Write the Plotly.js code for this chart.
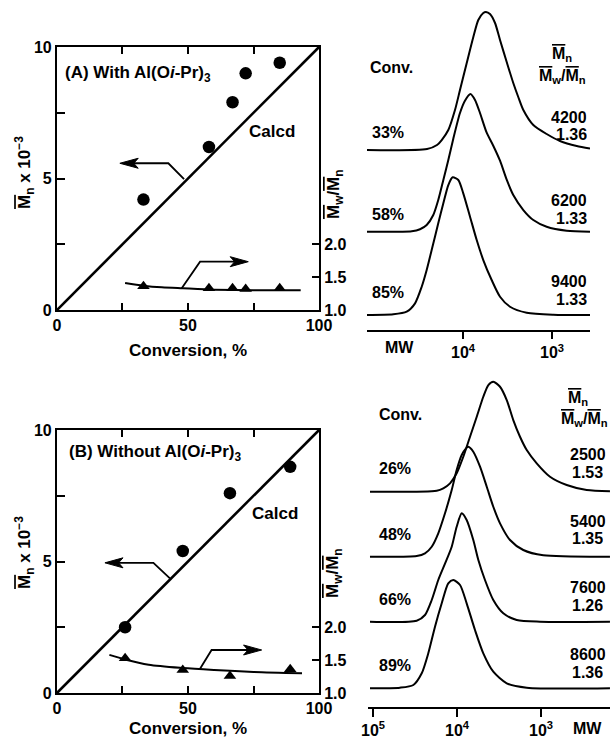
<!DOCTYPE html>
<html><head><meta charset="utf-8">
<script src="https://cdn.plot.ly/plotly-3.0.1.min.js"></script>
<style>html,body{margin:0;padding:0;background:#fff;}#chart{width:610px;height:738px;}</style>
</head><body><div id="chart"></div>
<script>
// ---------- Panel A: with Al(Oi-Pr)3 ----------
const convA = [33, 58, 67, 72, 85];
const mnA = [4.2, 6.2, 7.9, 9.0, 9.4];
const pdiA = [1.36, 1.33, 1.33, 1.32, 1.33];
const fitConvA = [26, 33, 40, 48, 60, 75, 93];
const fitPdiA = [1.41, 1.37, 1.345, 1.33, 1.31, 1.30, 1.30];
// ---------- Panel B: without Al(Oi-Pr)3 ----------
const convB = [26, 48, 66, 89];
const mnB = [2.5, 5.4, 7.6, 8.6];
const pdiB = [1.53, 1.35, 1.26, 1.36];
const fitConvB = [20, 26, 35, 48, 60, 75, 93.5];
const fitPdiB = [1.58, 1.51, 1.43, 1.38, 1.35, 1.32, 1.30];
// calculated Mn line
const calcdConv = [0, 100];
const calcdMn = [0, 10];

// ---------- GPC traces (x = log10 MW, y = detector response, arbitrary units) ----------
const gpcConvA = ['33%', '58%', '85%'];
const gpcMnA = ['4200', '6200', '9400'];
const gpcPdiA = ['1.36', '1.33', '1.33'];
const gpcBaseA = [180, 98.3, 15];
const logMwA33 = [5.079, 4.404, 4.292, 4.239, 4.165, 4.090, 4.034, 3.958, 3.884, 3.828, 3.772, 3.742, 3.697, 3.640, 3.584, 3.509, 3.435, 3.379, 3.322, 3.210, 3.060, 2.910, 2.722, 2.573];
const respA33 = [0, 1, 5, 10, 20, 40, 60, 87, 113, 130, 137, 138, 136, 127, 110, 88, 67, 53, 40, 25, 16, 9, 4, 1.5];
const logMwA58 = [5.082, 4.576, 4.483, 4.408, 4.334, 4.278, 4.221, 4.165, 4.109, 4.034, 3.978, 3.916, 3.865, 3.809, 3.734, 3.660, 3.584, 3.509, 3.435, 3.322, 3.210, 3.060, 2.835, 2.573];
const respA58 = [0, 0.5, 2.5, 6.7, 16.7, 31.7, 51.7, 71.7, 93, 118.7, 131, 137.7, 131.7, 118.7, 99, 86, 71, 52, 36.7, 21.7, 11.7, 5, 1, 0];
const logMwA85 = [5.082, 4.783, 4.633, 4.539, 4.464, 4.408, 4.352, 4.278, 4.221, 4.165, 4.116, 4.053, 3.997, 3.921, 3.846, 3.772, 3.678, 3.584, 3.472, 3.284, 2.985, 2.573];
const respA85 = [0, 0.7, 3.3, 11.7, 28.3, 45, 65, 91.7, 111.7, 130, 137.7, 135, 121.7, 98.3, 75, 55, 35, 18.3, 8.3, 2.3, 0.3, 0];

const gpcConvB = ['26%', '48%', '66%', '89%'];
const gpcMnB = ['2500', '5400', '7600', '8600'];
const gpcPdiB = ['1.53', '1.35', '1.26', '1.36'];
const gpcBaseB = [215.3, 150.3, 85.3, 18.7];
const logMwB26 = [5.036, 4.242, 4.163, 4.083, 4.004, 3.925, 3.845, 3.765, 3.687, 3.627, 3.568, 3.488, 3.408, 3.330, 3.250, 3.170, 3.051, 2.893, 2.694, 2.456, 2.179];
const respB26 = [0, 1, 3.4, 8.4, 18.4, 35, 55, 75, 95, 106.7, 110, 105, 91.7, 71.7, 55, 41.7, 28.4, 15, 6.7, 1.7, 0.5];
const logMwB48 = [5.036, 4.480, 4.381, 4.301, 4.223, 4.143, 4.063, 4.004, 3.944, 3.893, 3.865, 3.806, 3.726, 3.646, 3.568, 3.488, 3.369, 3.211, 2.973, 2.179];
const respB48 = [0, 0.7, 3.4, 10, 23.4, 43.4, 66.7, 86.7, 101.7, 108.4, 110, 105, 90, 70, 50, 33.4, 16.7, 6.7, 1.4, 0];
const logMwB66 = [5.036, 4.480, 4.381, 4.301, 4.223, 4.143, 4.063, 4.004, 3.944, 3.885, 3.806, 3.746, 3.667, 3.568, 3.449, 3.289, 3.012, 2.179];
const respB66 = [0, 1, 6.7, 21.7, 41.7, 58, 75, 95, 108.4, 101.7, 81.7, 61.7, 41.7, 21.7, 8.4, 1.7, 0, 0];
const logMwB89 = [5.036, 4.679, 4.520, 4.420, 4.342, 4.262, 4.182, 4.104, 4.044, 3.964, 3.885, 3.786, 3.687, 3.568, 3.408, 3.170, 2.179];
const respB89 = [0, 0.6, 3.3, 15, 35, 61.6, 85, 105, 108.3, 103.3, 85, 58.3, 35, 16.6, 5, 0.6, 0];

// ---------- build ----------
const BLACK = '#000';
const OV = s => '<span style="text-decoration:overline">' + s + '</span>';
const MN = OV('M') + '<sub>n</sub>';
const MW = OV('M') + '<sub>w</sub>';

const traces = [];
function panel(xa, ya, ya2, conv, mn, pdi, fitC, fitP) {
  traces.push({x: calcdConv, y: calcdMn, xaxis: xa, yaxis: ya, mode: 'lines', line: {color: BLACK, width: 2.6}, hoverinfo: 'skip'});
  traces.push({x: conv, y: mn, xaxis: xa, yaxis: ya, mode: 'markers', marker: {symbol: 'circle', size: 12.5, color: BLACK}});
  traces.push({x: fitC, y: fitP, xaxis: xa, yaxis: ya2, mode: 'lines', line: {color: BLACK, width: 2, shape: 'spline', smoothing: 0.8}});
  traces.push({x: conv, y: pdi, xaxis: xa, yaxis: ya2, mode: 'markers', marker: {symbol: 'triangle-up', size: 11, color: BLACK}});
}
panel('x', 'y', 'y2', convA, mnA, pdiA, fitConvA, fitPdiA);
panel('x2', 'y3', 'y4', convB, mnB, pdiB, fitConvB, fitPdiB);

function gpc(xa, ya, xs, ys, base) {
  traces.push({x: xs, y: ys.map(v => v + base), xaxis: xa, yaxis: ya, mode: 'lines',
    line: {color: BLACK, width: 2, shape: 'spline', smoothing: 0.7}});
}
gpc('x3', 'y5', logMwA33, respA33, gpcBaseA[0]);
gpc('x3', 'y5', logMwA58, respA58, gpcBaseA[1]);
gpc('x3', 'y5', logMwA85, respA85, gpcBaseA[2]);
gpc('x4', 'y6', logMwB26, respB26, gpcBaseB[0]);
gpc('x4', 'y6', logMwB48, respB48, gpcBaseB[1]);
gpc('x4', 'y6', logMwB66, respB66, gpcBaseB[2]);
gpc('x4', 'y6', logMwB89, respB89, gpcBaseB[3]);

const axLine = {showline: true, linewidth: 2, linecolor: BLACK, showgrid: false, zeroline: false, tickcolor: BLACK, tickwidth: 2};
const convAxis = (dom, anchor) => Object.assign({}, axLine, {
  domain: dom, anchor: anchor, range: [0, 100], tickvals: [0, 50, 100],
  ticks: 'inside', ticklen: 7, mirror: 'ticks',
  minor: {tick0: 0, dtick: 25, ticks: 'inside', ticklen: 7, tickwidth: 2, tickcolor: BLACK, showgrid: false}});
const mnAxis = (dom, anchor) => Object.assign({}, axLine, {
  domain: dom, anchor: anchor, range: [0, 10], tickvals: [0, 5, 10],
  ticks: 'inside', ticklen: 8, mirror: true,
  minor: {tick0: 0, dtick: 2.5, ticks: 'inside', ticklen: 8, tickwidth: 2, tickcolor: BLACK, showgrid: false}});
const pdiAxis = (over, anchor) => Object.assign({}, axLine, {
  overlaying: over, anchor: anchor, side: 'right', range: [1, 5], tickvals: [1, 1.5, 2], ticktext: ['1.0', '1.5', '2.0'],
  ticks: 'inside', ticklen: 7});
const mwAxis = (dom, anchor, rng, tv, tl) => Object.assign({}, axLine, {
  domain: dom, anchor: anchor, range: rng, tickvals: tv, ticktext: tv.map(v => '10<sup>' + v + '</sup>'),
  ticks: 'outside', ticklen: tl});
const hidY = (dom, anchor, rng) => ({domain: dom, anchor: anchor, range: rng, visible: false, fixedrange: true});

const ann = [];
const shapes = [];
function txt(text, x, y, xanchor, extra) {
  ann.push(Object.assign({text: text, x: x, y: y, xref: 'paper', yref: 'paper', xanchor: xanchor, yanchor: 'middle', showarrow: false}, extra || {}));
}
// left-panel labels (data coordinates)
const big = {font: {size: 17}};
ann.push(Object.assign({text: '(A) With Al(O<i>i</i>-Pr)<sub>3</sub>', x: 2.3, y: 8.97, xref: 'x', yref: 'y', xanchor: 'left', yanchor: 'middle', showarrow: false}, big));
ann.push(Object.assign({text: 'Calcd', x: 82.1, y: 6.77, xref: 'x', yref: 'y', xanchor: 'center', yanchor: 'middle', showarrow: false}, big));
ann.push(Object.assign({text: '(B) Without Al(O<i>i</i>-Pr)<sub>3</sub>', x: 3.8, y: 9.11, xref: 'x2', yref: 'y3', xanchor: 'left', yanchor: 'middle', showarrow: false}, big));
ann.push(Object.assign({text: 'Calcd', x: 83.2, y: 6.81, xref: 'x2', yref: 'y3', xanchor: 'center', yanchor: 'middle', showarrow: false}, big));
// axis titles
txt('Conversion, %', 0.3082, 0.5257, 'center', big);
txt('Conversion, %', 0.3082, 0.0122, 'center', big);
txt(MN + ' x 10<sup>\u22123</sup>', 0.0410, 0.7656, 'center', {textangle: -90, font: {size: 17}});
txt(MN + ' x 10<sup>\u22123</sup>', 0.0410, 0.2507, 'center', {textangle: -90, font: {size: 17}});
txt(MW + '/' + MN, 0.5492, 0.7371, 'center', {textangle: -90, font: {size: 17}});
txt(MW + '/' + MN, 0.5475, 0.2236, 'center', {textangle: -90, font: {size: 17}});

const tight = {height: 16};
// GPC labels, panel A
txt('Conv.', 0.6033, 0.9079, 'left');
const convYA = [0.8211, 0.7100, 0.6043];
const mnYA = [0.8415, 0.7290, 0.6193];
const pdiYA = [0.8184, 0.7046, 0.5948];
gpcConvA.forEach((t, i) => {
  txt(t, 0.6066, convYA[i], 'left');
  txt(gpcMnA[i], 0.9656, mnYA[i], 'right', tight);
  txt(gpcPdiA[i], 0.9656, pdiYA[i], 'right', tight);
});
txt(MN, 0.9221, 0.9255, 'center');
txt(MW + '/' + MN, 0.9221, 0.8957, 'center');
txt('MW', 0.6557, 0.5298, 'center');
// GPC labels, panel B
txt('Conv.', 0.6180, 0.4377, 'left');
const convYB = [0.3645, 0.2751, 0.1883, 0.0976];
const mnYB = [0.3849, 0.2941, 0.2047, 0.1139];
const pdiYB = [0.3604, 0.2710, 0.1802, 0.0894];
gpcConvB.forEach((t, i) => {
  txt(t, 0.6180, convYB[i], 'left');
  txt(gpcMnB[i], 0.9639, mnYB[i], 'center', tight);
  txt(gpcPdiB[i], 0.9639, pdiYB[i], 'center', tight);
});
txt(MN, 0.9475, 0.4607, 'center');
txt(MW + '/' + MN, 0.9574, 0.4309, 'center');
txt('MW', 0.9639, 0.0122, 'center');

// pointer arrows (bent line + barbed head), in data coordinates
function arrow(xr, yr, pts, head) {
  shapes.push({type: 'path', xref: xr, yref: yr, path: 'M' + pts.map(p => p.join(',')).join('L'),
    line: {color: BLACK, width: 1.8}, fillcolor: 'rgba(0,0,0,0)'});
  shapes.push({type: 'path', xref: xr, yref: yr, path: 'M' + head.map(p => p.join(',')).join('L') + 'Z',
    line: {color: BLACK, width: 1}, fillcolor: BLACK});
}
arrow('x', 'y', [[48.5, 4.98], [42.5, 5.58], [26, 5.58]], [[24, 5.58], [31, 5.77], [29.3, 5.58], [31, 5.39]]);
arrow('x', 'y2', [[47.6, 1.33], [54.6, 1.735], [71, 1.735]], [[73, 1.735], [66.1, 1.811], [67.8, 1.735], [66.1, 1.659]]);
arrow('x2', 'y3', [[43.1, 4.36], [36.8, 4.95], [20.3, 4.95]], [[18.3, 4.95], [25.2, 5.14], [23.5, 4.95], [25.2, 4.76]]);
arrow('x2', 'y4', [[54.6, 1.37], [59.0, 1.654], [76, 1.654]], [[78.1, 1.654], [71.2, 1.73], [72.9, 1.654], [71.2, 1.578]]);

const layout = {
  width: 610, height: 738, margin: {l: 0, r: 0, t: 0, b: 0},
  paper_bgcolor: '#fff', plot_bgcolor: 'rgba(0,0,0,0)', showlegend: false,
  font: {family: 'Liberation Sans, Arial, Helvetica, sans-serif', size: 16, color: BLACK, weight: 700},
  xaxis: convAxis([0.0934, 0.5230], 'y'),
  yaxis: mnAxis([0.5799, 0.9363], 'x'),
  yaxis2: pdiAxis('y', 'x'),
  xaxis2: convAxis([0.0934, 0.5230], 'y3'),
  yaxis3: mnAxis([0.0610, 0.4173], 'x2'),
  yaxis4: pdiAxis('y3', 'x2'),
  xaxis3: mwAxis([0.6016, 0.9672], 'y5', [5.079, 2.573], [4, 3], 7),
  yaxis5: hidY([0.5528, 1.0], 'x3', [0, 330]),
  xaxis4: mwAxis([0.6033, 1.0], 'y6', [5.0595, 2.1786], [5, 4, 3], 8),
  yaxis6: hidY([0.0420, 0.4986], 'x4', [0, 337]),
  annotations: ann, shapes: shapes
};
Plotly.newPlot('chart', traces, layout, {staticPlot: true, displayModeBar: false});
</script></body></html>
